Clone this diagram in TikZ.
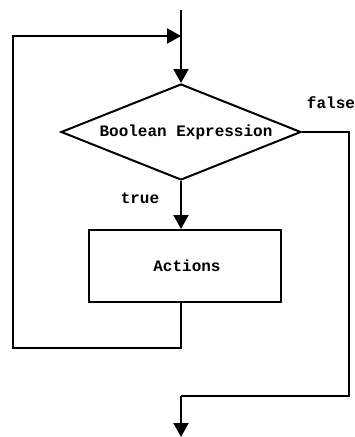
\documentclass[tikz,border=0pt]{standalone}
\usepackage{fontspec}
\setmonofont{Liberation Mono}
\usetikzlibrary{arrows.meta}
\usetikzlibrary{shapes.geometric, positioning}

\tikzset{
  line/.style={line width=2pt},
  arr/.style={line, -{Triangle[length=14pt,width=15pt]}},
  decision/.style={diamond, draw, line, aspect=2.5, inner sep=0pt,
    minimum width=240pt, minimum height=96pt},
  block/.style={rectangle, draw, line, minimum width=192pt, minimum height=72pt},
  lbl/.style={inner sep=0pt}
}

\begin{document}
\begin{tikzpicture}[x=1pt, y=-1pt, font=\ttfamily\bfseries\fontsize{16}{19}\selectfont]
\useasboundingbox (0,0) rectangle (355,437);

\node[decision] (cond) at (181,132) {\hspace*{10pt}Boolean Expression};
\node[block, below=48pt of cond, xshift=4pt] (act) {\hspace*{4pt}Actions};

\coordinate (start) at (181,10);
\coordinate (join) at (181,36);
\coordinate (back) at (181,348);
\coordinate (left) at (13,348);
\coordinate (turn) at (349,396);
\coordinate (exit) at (181,396);
\coordinate (stop) at (181,437);

\node[lbl] (false) at (331,103) {false};
\node[lbl] (true) at (140,198) {true};

% entry and loop back
\draw[arr] (start) -- (cond.north);
\draw[arr] (act.south -| back) -- (back) -- (left) |- (join);
\draw[arr] (cond.south) -- (act.north -| cond.south);

% leaving the loop
\draw[line] (cond.east) -| (turn) -- (exit);
\draw[arr] (exit) -- (stop);

\end{tikzpicture}
\end{document}
